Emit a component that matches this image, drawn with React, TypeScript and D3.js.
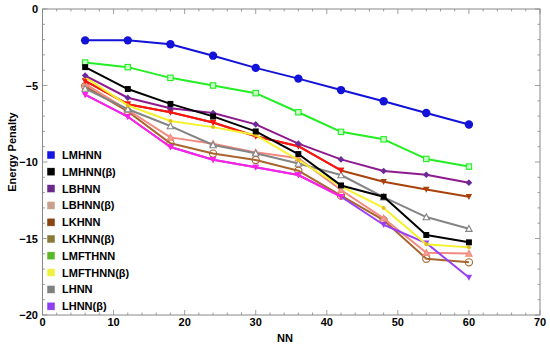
import * as d3 from "d3";

// x positions (NN) shared by every series
const nn = [6, 12, 18, 24, 30, 36, 42, 48, 54, 60];

const lmhnn = [-2.05, -2.05, -2.3, -3.05, -3.85, -4.55, -5.3, -6.03, -6.8, -7.55];
const lmfthnn = [-3.5, -3.8, -4.5, -5.0, -5.5, -6.75, -8.03, -8.52, -9.8, -10.3];
const lmhnnB = [-3.8, -5.23, -6.2, -7.02, -8.0, -9.48, -11.53, -12.27, -14.77, -15.25];
const lbhnn = [-4.35, -5.8, -6.49, -6.8, -7.54, -8.8, -9.83, -10.59, -10.83, -11.35];
const lkhnn = [-4.7, -6.22, -6.75, -7.42, -8.32, -8.97, -10.55, -11.29, -11.8, -12.27];
const lmfthnnB = [-4.45, -6.3, -7.32, -7.72, -8.24, -9.87, -11.6, -13.0, -15.38, -15.58];
const lhnn = [-5.2, -6.55, -7.65, -8.89, -9.43, -10.1, -10.85, -12.3, -13.6, -14.36];
const lbhnnB = [-4.9, -6.6, -8.39, -8.8, -9.37, -9.76, -11.83, -13.68, -15.93, -15.98];
const lkhnnB = [-5.05, -6.7, -8.78, -9.45, -9.87, -10.57, -12.2, -13.8, -16.32, -16.56];
const lhnnB = [-5.6, -7.04, -9.02, -9.85, -10.35, -10.85, -12.27, -14.1, -15.3, -17.55];

const xTicks = [0, 10, 20, 30, 40, 50, 60, 70];
const yTicks = [0, -5, -10, -15, -20];

const legendNames = [
  "LMHNN", "LMHNN(β)", "LBHNN", "LBHNN(β)", "LKHNN",
  "LKHNN(β)", "LMFTHNN", "LMFTHNN(β)", "LHNN", "LHNN(β)",
];
const legendColors = [
  "#1515e0", "#000000", "#6a2a8c", "#c9a08c", "#8b4513",
  "#8a7a3a", "#5ab82a", "#f0f040", "#808080", "#8e40f0",
];

type Series = {
  values: number[];
  color: string;
  marker: "circle" | "square" | "diamond" | "tri" | "tridown" | "ocircle";
  fill: string;
  upTo?: number; // number of points drawn
  size?: number;
};

const series: Series[] = [
  { values: lmhnn, color: "#1212d8", marker: "circle", fill: "#1212d8", size: 4.2 },
  { values: lmfthnn, color: "#22ee22", marker: "square", fill: "#c8ffc8" },
  { values: lkhnnB, color: "#a8652e", marker: "ocircle", fill: "none" },
  { values: lbhnnB, color: "#f28a80", marker: "tri", fill: "#f0a090" },
  { values: lhnnB, color: "#9a3ff5", marker: "tridown", fill: "#9a3ff5" },
  { values: lhnnB, color: "#ff22e6", marker: "tridown", fill: "#ff22e6", upTo: 7 },
  { values: lhnn, color: "#858585", marker: "tri", fill: "#ffffff" },
  { values: lkhnn, color: "#a8420c", marker: "tridown", fill: "#a8420c" },
  { values: lkhnn, color: "#ff1414", marker: "tridown", fill: "#ff1414", upTo: 7 },
  { values: lmfthnnB, color: "#f6f22a", marker: "circle", fill: "#e0c020", size: 2 },
  { values: lbhnn, color: "#8e1a8e", marker: "diamond", fill: "#6a2a9a" },
  { values: lmhnnB, color: "#000000", marker: "square", fill: "#000000", size: 2.4 },
];

const W = 550;
const H = 347;
const x = d3.scaleLinear().domain([0, 70]).range([42.5, 540]);
const y = d3.scaleLinear().domain([-20, 0]).range([315, 9]);

function Marker({ cx, cy, s }: { cx: number; cy: number; s: Series }) {
  const r = s.size ?? 2.7;
  const sw = 1.1;
  switch (s.marker) {
    case "circle":
      return <circle cx={cx} cy={cy} r={r} fill={s.fill} />;
    case "ocircle":
      return <circle cx={cx} cy={cy} r={r + 0.9} fill="none" stroke={s.color} strokeWidth={sw} />;
    case "square":
      return (
        <rect x={cx - r} y={cy - r} width={r * 2} height={r * 2} fill={s.fill} stroke={s.color} strokeWidth={sw} />
      );
    case "diamond":
      return (
        <path d={`M${cx},${cy - r - 0.6}L${cx + r + 0.6},${cy}L${cx},${cy + r + 0.6}L${cx - r - 0.6},${cy}Z`} fill={s.fill} />
      );
    case "tri":
      return (
        <path d={`M${cx},${cy - r - 0.5}L${cx + r + 0.5},${cy + r}L${cx - r - 0.5},${cy + r}Z`} fill={s.fill} stroke={s.color} strokeWidth={sw} />
      );
    case "tridown":
      return <path d={`M${cx},${cy + r + 0.5}L${cx + r + 0.5},${cy - r}L${cx - r - 0.5},${cy - r}Z`} fill={s.fill} />;
  }
}

export default function App() {
  const line = d3
    .line<[number, number]>()
    .x((d) => x(d[0]))
    .y((d) => y(d[1]));

  const xMinor = d3.range(0, 71, 2);
  const yMinor = d3.range(-20, 0.5, 1);
  const [x0, x1] = x.range();
  const [y0, y1] = y.range();

  return (
    <div style={{ position: "fixed", left: 0, top: 0 }}>
      <svg width={W} height={H} style={{ display: "block", fontFamily: "'Liberation Sans', Arial, sans-serif" }}>
        <rect width={W} height={H} fill="#fff" />
        {/* frame */}
        <rect x={x0} y={y1} width={x1 - x0} height={y0 - y1} fill="none" stroke="#888" strokeWidth={1} />
        {xMinor.map((t) => {
          const major = t % 10 === 0;
          const l = major ? 5 : 2.5;
          return (
            <g key={"xt" + t} stroke="#888" strokeWidth={0.8}>
              <line x1={x(t)} x2={x(t)} y1={y0} y2={y0 - l} />
              <line x1={x(t)} x2={x(t)} y1={y1} y2={y1 + l} />
            </g>
          );
        })}
        {yMinor.map((t) => {
          const major = t % 5 === 0;
          const l = major ? 5 : 2.5;
          return (
            <g key={"yt" + t} stroke="#888" strokeWidth={0.8}>
              <line x1={x0} x2={x0 + l} y1={y(t)} y2={y(t)} />
              <line x1={x1} x2={x1 - l} y1={y(t)} y2={y(t)} />
            </g>
          );
        })}
        {xTicks.map((t) => (
          <text key={"xl" + t} x={x(t)} y={326} textAnchor="middle" fontSize={11} fontWeight="bold">
            {t}
          </text>
        ))}
        {yTicks.map((t) => (
          <text key={"yl" + t} x={38} y={y(t) + 4} textAnchor="end" fontSize={11} fontWeight="bold">
            {t === 0 ? "0" : "−" + Math.abs(t)}
          </text>
        ))}
        <text x={277} y={342} fontSize={11} fontWeight="bold">NN</text>
        <text transform="translate(16,152) rotate(-90)" textAnchor="middle" fontSize={11} fontWeight="bold">
          Energy Penalty
        </text>

        {/* series */}
        {series.map((s, i) => {
          const n = s.upTo ?? nn.length;
          const pts: [number, number][] = nn.slice(0, n).map((v, j) => [v, s.values[j]]);
          return (
            <g key={"s" + i}>
              <path d={line(pts) ?? ""} fill="none" stroke={s.color} strokeWidth={2} strokeLinejoin="round" />
              {pts.map((p, j) => (
                <Marker key={j} cx={x(p[0])} cy={y(p[1])} s={s} />
              ))}
            </g>
          );
        })}

        {/* legend */}
        {legendNames.map((name, i) => {
          const cy = 155 + i * 16.8;
          return (
            <g key={"lg" + i}>
              <rect x={47} y={cy - 4} width={8} height={8} fill={legendColors[i]} stroke="#fff" strokeWidth={0.5} />
              <text x={62} y={cy + 4} fontSize={11} fontWeight="bold">{name}</text>
            </g>
          );
        })}
      </svg>
    </div>
  );
}
